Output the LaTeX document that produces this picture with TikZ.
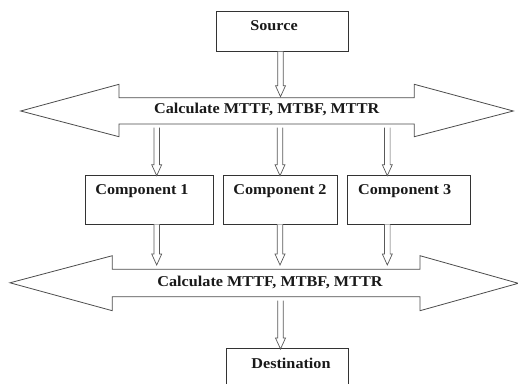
\documentclass[tikz,border=0pt]{standalone}
\usepackage{fontspec}
\setmainfont{Liberation Serif}[FakeStretch=1.08]
\usetikzlibrary{calc}
\begin{document}
\begin{tikzpicture}[x=1pt,y=-1pt,
  box/.style={draw=black!80, line width=0.8pt},
  lbl/.style={font=\bfseries\fontsize{15}{18}\selectfont, inner sep=0pt, text=black!90},
  bigarrow/.style={draw=black!70, line width=0.8pt, fill=white},
  blockarrow/.style={draw=black!65, line width=0.7pt, fill=white}]
\useasboundingbox (0,0) rectangle (518,383);

% vertical block arrow from one point down to another
\newcommand{\blockdown}[2]{%
  \draw[blockarrow] let \p1=(#1), \p2=(#2) in
    (\x1-2.8pt,\y1) -- (\x1-2.8pt,\y2+11pt) -- (\x1-5pt,\y2+11pt) -- (\x1,\y2)
    -- (\x1+5pt,\y2+11pt) -- (\x1+2.8pt,\y2+11pt) -- (\x1+2.8pt,\y1);}

% source and destination boxes
\draw[box] (216.7,11) rectangle (348.3,51.7);
\node[lbl] (src) at (274,26) {Source};
\coordinate (srcS) at (280.5,51.7);

\draw[box] (226.7,348.3) rectangle (348.3,395);
\node[lbl] (dst) at (291,363.3) {Destination};
\coordinate (dstN) at (280.5,349);

% upper double arrow
\draw[bigarrow] (20.7,111) -- (119,84.3) -- (119,97.7) -- (414.3,97.7) -- (414.3,84.3)
  -- (513.3,111) -- (414.3,136.7) -- (414.3,124) -- (119,124) -- (119,136.7) -- cycle;
\node[lbl] (calc1) at (266.7,109.5) {Calculate MTTF, MTBF, MTTR};

% lower double arrow
\draw[bigarrow] (10,282.8) -- (112.3,255.7) -- (112.3,269.3) -- (420,269.3) -- (420,255.7)
  -- (518.3,283.3) -- (420,310.7) -- (420,296.7) -- (112.3,296.7) -- (112.3,310.7) -- cycle;
\node[lbl] (calc2) at (270,282.5) {Calculate MTTF, MTBF, MTTR};

% component boxes
\draw[box] (85.7,175.7) rectangle (213.3,224.3);
\draw[box] (223.3,175.7) rectangle (337.3,224.3);
\draw[box] (347.7,175.7) rectangle (470,224.3);
\node[lbl] (c1) at (142,190.7) {Component 1};
\node[lbl] (c2) at (280,190.7) {Component 2};
\node[lbl] (c3) at (404.7,190.7) {Component 3};

% anchor points for the connecting arrows
\coordinate (a1) at (280.5,96.7);
\foreach \i/\x in {1/156.7,2/280,3/387.3}{
  \coordinate (u\i) at (\x,127.7);
  \coordinate (cn\i) at (\x,175.7);
  \coordinate (cs\i) at (\x,224.3);
  \coordinate (l\i) at (\x,265);
}
\coordinate (b1) at (280.5,300.7);

\blockdown{srcS}{a1}
\foreach \i in {1,2,3}{
  \blockdown{u\i}{cn\i}
  \blockdown{cs\i}{l\i}
}
\blockdown{b1}{dstN}
\end{tikzpicture}
\end{document}
